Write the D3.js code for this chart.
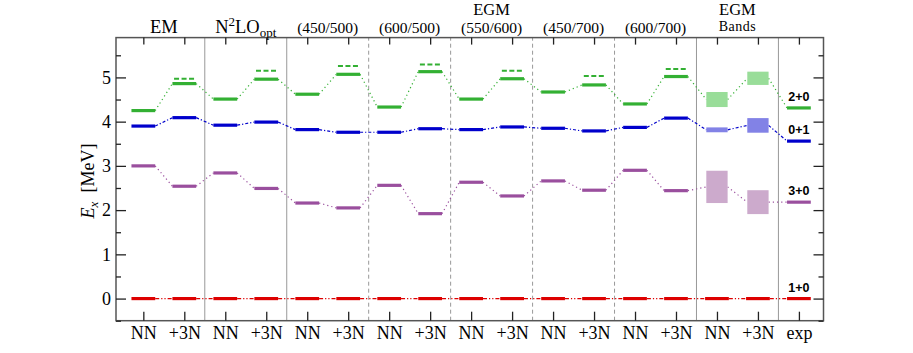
<!DOCTYPE html>
<html>
<head>
<meta charset="utf-8">
<script src="https://cdn.jsdelivr.net/npm/d3@7"></script>
<style>
  body { margin: 0; background: #fff; }
</style>
</head>
<body>
<div id="chart"></div>
<script>
// columns along the x axis
const columns = ["NN", "+3N", "NN", "+3N", "NN", "+3N", "NN", "+3N", "NN", "+3N",
                 "NN", "+3N", "NN", "+3N", "NN", "+3N", "exp"]
// which separator between column pairs is dashed
const separators = [1.5, 3.5, 5.5, 7.5, 9.5, 11.5, 13.5, 15.5]
const sepDashed = [false, false, true, true, true, true, false, false]

// levels for the 14 interaction columns (EM .. (600/700))
const lev20 = [4.25, 4.86, 4.51, 4.96, 4.62, 5.07, 4.33, 5.13, 4.51, 4.97, 4.67, 4.83, 4.40, 5.02]
const lev01 = [3.90, 4.09, 3.92, 3.99, 3.82, 3.76, 3.76, 3.84, 3.82, 3.88, 3.85, 3.79, 3.87, 4.08]
const lev30 = [3.00, 2.54, 2.84, 2.49, 2.16, 2.05, 2.56, 1.92, 2.63, 2.32, 2.66, 2.45, 2.90, 2.44]
const lev10 = [0, 0, 0, 0, 0, 0, 0, 0, 0, 0, 0, 0, 0, 0]
// dashed levels above the +3N columns (1, 3, 5, ...)
const dash20 = [4.97, 5.15, 5.26, 5.29, 5.15, 5.03, 5.19]
const dash01 = [4.10, 3.99, 3.76, 3.84, 3.88, 3.79, 4.08]
const dash30 = [2.54, 2.49, 2.05, 1.92, 2.32, 2.45, 2.44]
// EGM bands (NN, +3N): [low, high]
const band20 = [[4.33, 4.67], [4.83, 5.13]]
const band01 = [[3.76, 3.87], [3.75, 4.08]]
const band30 = [[2.16, 2.89], [1.91, 2.45]]
// experiment
const exp20 = 4.31, exp01 = 3.56, exp30 = 2.18, exp10 = 0

const states = [
    {name: "2+0", lev: lev20, dash: dash20, band: band20, exp: exp20, color: "#33b033", bandColor: "#99dd99", conn: "1.2,3"},
    {name: "0+1", lev: lev01, dash: dash01, band: band01, exp: exp01, color: "#0000cc", bandColor: "#8282e6", conn: "3,2,1.2,2"},
    {name: "3+0", lev: lev30, dash: dash30, band: band30, exp: exp30, color: "#9a4f9e", bandColor: "#ccaacc", conn: "1.2,3"},
    {name: "1+0", lev: lev10, dash: null, band: null, exp: exp10, color: "#dd0000", bandColor: null, conn: "4,2,1.2,2,1.2,2"}
]

const SERIF = "'Liberation Serif', 'Times New Roman', 'DejaVu Serif', serif"
const width = 913, height = 353
const svg = d3.select("#chart").append("svg")
    .attr("width", width)
    .attr("height", height)
    .attr("font-family", SERIF)

const x = d3.scaleLinear().domain([-0.667, 16.6]).range([116, 823.5])
const y = d3.scaleLinear().domain([-0.5, 5.9]).range([320.7, 37.6])
const hw = 0.29 // half width of a level bar in column units
const bw = 0.26 // half width of a band box

// separators
svg.append("g").selectAll("line")
    .data(separators)
    .enter().append("line")
    .attr("x1", d => x(d)).attr("x2", d => x(d))
    .attr("y1", y(-0.5)).attr("y2", y(5.9))
    .attr("stroke", "#999")
    .attr("stroke-width", 1)
    .attr("stroke-dasharray", (d, i) => sepDashed[i] ? "4,3" : null)

// levels
states.forEach(s => {
    const g = svg.append("g")
    // points used by the connectors: [xLeft, xRight, value]
    const pts = s.lev.map((v, i) => [i - hw, i + hw, v])
    if (s.band) {
        s.band.forEach((b, k) => pts.push([14 + k - bw, 14 + k + bw, (b[0] + b[1]) / 2]))
    } else {
        pts.push([14 - hw, 14 + hw, 0], [15 - hw, 15 + hw, 0])
    }
    pts.push([16 - hw, 16 + hw, s.exp])

    // connectors
    g.selectAll(".conn")
        .data(d3.pairs(pts))
        .enter().append("line")
        .attr("class", "conn")
        .attr("x1", d => x(d[0][1])).attr("y1", d => y(d[0][2]))
        .attr("x2", d => x(d[1][0])).attr("y2", d => y(d[1][2]))
        .attr("stroke", s.color)
        .attr("stroke-width", 1.2)
        .attr("stroke-dasharray", s.conn)

    // bands
    if (s.band) {
        g.selectAll(".band")
            .data(s.band)
            .enter().append("rect")
            .attr("class", "band")
            .attr("x", (d, k) => x(14 + k - bw))
            .attr("width", x(bw) - x(-bw))
            .attr("y", d => y(d[1]))
            .attr("height", d => y(d[0]) - y(d[1]))
            .attr("fill", s.bandColor)
    }

    // bars
    const bars = pts.filter((p, i) => !(s.band && (i == 14 || i == 15)))
    g.selectAll(".bar")
        .data(bars)
        .enter().append("line")
        .attr("class", "bar")
        .attr("x1", d => x(d[0])).attr("x2", d => x(d[1]))
        .attr("y1", d => y(d[2])).attr("y2", d => y(d[2]))
        .attr("stroke", s.color)
        .attr("stroke-width", 3.2)

    // dashed levels above +3N
    if (s.dash) {
        g.selectAll(".dash")
            .data(s.dash)
            .enter().append("line")
            .attr("class", "dash")
            .attr("x1", (d, k) => x(2 * k + 1 - hw + 0.04)).attr("x2", (d, k) => x(2 * k + 1 + hw))
            .attr("y1", d => y(d)).attr("y2", d => y(d))
            .attr("stroke", s.color)
            .attr("stroke-width", s.name == "2+0" ? 2 : 1.4)
            .attr("stroke-opacity", s.name == "2+0" ? 1 : 0.5)
            .attr("stroke-dasharray", "5,2.5")
    }

    // state label at experiment
    svg.append("text")
        .attr("x", x(16))
        .attr("y", y(s.exp) - 7)
        .attr("text-anchor", "middle")
        .attr("font-family", "'Liberation Sans', Arial, sans-serif")
        .attr("font-weight", "bold")
        .attr("font-size", 12.5)
        .text(s.name)
})

// frame
svg.append("rect")
    .attr("x", x.range()[0]).attr("y", y.range()[1])
    .attr("width", x.range()[1] - x.range()[0])
    .attr("height", y.range()[0] - y.range()[1])
    .attr("fill", "none")
    .attr("stroke", "#555")
    .attr("stroke-width", 1.5)

// y axis ticks (left and right), pointing inward
const yMajor = d3.range(0, 6)
const yMinor = d3.range(-0.5, 5.9, 0.5).filter(v => v % 1 != 0)
const axL = d3.axisLeft(y).tickValues(yMajor).tickSize(-10).tickPadding(5).tickFormat(d3.format("d"))
const gL = svg.append("g").attr("transform", `translate(${x.range()[0]},0)`).call(axL)
gL.attr("font-family", SERIF).attr("font-size", 18)
gL.select(".domain").remove()
gL.selectAll("text").attr("fill", "#000")
svg.append("g").attr("transform", `translate(${x.range()[0]},0)`)
    .call(d3.axisLeft(y).tickValues(yMinor).tickSize(-5).tickFormat(""))
    .select(".domain").remove()
const gR = svg.append("g").attr("transform", `translate(${x.range()[1]},0)`)
    .call(d3.axisRight(y).tickValues(yMajor).tickSize(-10).tickFormat(""))
gR.select(".domain").remove()
svg.append("g").attr("transform", `translate(${x.range()[1]},0)`)
    .call(d3.axisRight(y).tickValues(yMinor).tickSize(-5).tickFormat(""))
    .select(".domain").remove()

// x axis ticks
const gB = svg.append("g").attr("transform", `translate(0,${y.range()[0]})`)
    .call(d3.axisBottom(x).tickValues(d3.range(17)).tickSize(-9).tickPadding(6).tickFormat(i => columns[i]))
gB.attr("font-family", SERIF).attr("font-size", 18)
gB.select(".domain").remove()
gB.selectAll("text").attr("fill", "#000")
const gT = svg.append("g").attr("transform", `translate(0,${y.range()[1]})`)
    .call(d3.axisTop(x).tickValues(d3.range(17)).tickSize(-7).tickFormat(""))
gT.select(".domain").remove()
svg.selectAll(".tick line").attr("stroke", "#222").attr("stroke-width", 1.3)

// group headers
const head = svg.append("g").attr("text-anchor", "middle").attr("fill", "#000").attr("font-family", SERIF)
head.append("text").attr("x", x(0.5)).attr("y", 32.5).attr("font-size", 18.5).text("EM")
const n2 = head.append("text").attr("x", x(2.5)).attr("y", 32.5).attr("font-size", 18.5)
n2.append("tspan").text("N")
n2.append("tspan").attr("dy", -7).attr("font-size", 13).text("2")
n2.append("tspan").attr("dy", 7).text("LO")
n2.append("tspan").attr("dy", 4).attr("font-size", 13).text("opt")
const cuts = [["(450/500)", 4.5], ["(600/500)", 6.5], ["(550/600)", 8.5], ["(450/700)", 10.5], ["(600/700)", 12.5]]
head.selectAll(".cut")
    .data(cuts)
    .enter().append("text")
    .attr("class", "cut")
    .attr("x", d => x(d[1])).attr("y", 32.5)
    .attr("font-size", 15.5)
    .text(d => d[0])
head.append("text").attr("x", x(8.5)).attr("y", 14.8).attr("font-size", 16.5).text("EGM")
head.append("text").attr("x", x(14.5)).attr("y", 14.8).attr("font-size", 16.5).text("EGM")
head.append("text").attr("x", x(14.5)).attr("y", 31).attr("font-size", 14)
    .attr("letter-spacing", 0.5).text("Bands")

// y label
const yl = svg.append("text")
    .attr("transform", "translate(94,181) rotate(-90)")
    .attr("text-anchor", "middle")
    .attr("font-size", 18)
yl.append("tspan").attr("font-style", "italic").text("E")
yl.append("tspan").attr("dy", 4).attr("font-style", "italic").attr("font-size", 13).text("x")
yl.append("tspan").attr("dy", -4).text("\u2002[MeV]")
</script>
</body>
</html>
